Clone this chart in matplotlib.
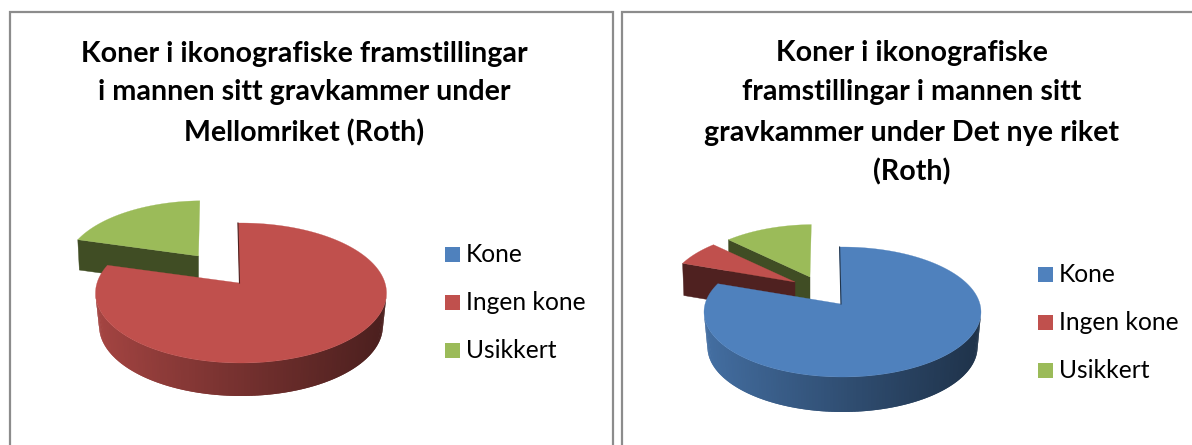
import matplotlib
matplotlib.use('Agg')
import matplotlib.pyplot as plt
import numpy as np
from matplotlib.colors import to_rgb

plt.rcParams['font.family'] = ['Lato', 'DejaVu Sans']

labels = ['Kone', 'Ingen kone', 'Usikkert']
colors = ['#4f81bd', '#c0504d', '#9bbb59']

title_left = ['Koner i ikonografiske framstillingar',
              'i mannen sitt gravkammer under',
              'Mellomriket (Roth)']
title_right = ['Koner i ikonografiske',
               'framstillingar i mannen sitt',
               'gravkammer under Det nye riket',
               '(Roth)']

values_left = [0, 9, 2]
values_right = [66, 5, 9]

fig = plt.figure(figsize=(11.92, 4.45), dpi=100)
ax = fig.add_axes([0, 0, 1, 1])
ax.set_xlim(0, 1192)
ax.set_ylim(445, 0)
ax.axis('off')


def shade(color, f):
    return tuple(c * f for c in to_rgb(color))


def rim(t, cx, cy, rx, ry):
    return cx + rx * np.cos(t), cy - ry * np.sin(t)


def draw_pie(values, cx, cy, rx, ry, lift, depth, offsets, scale=0.92, skew=-0.05, first=91.2):
    fracs = np.array(values, dtype=float) / sum(values)
    ends = first - 360 * np.cumsum(fracs)
    starts = ends + 360 * fracs
    apex_y = cy - lift
    apex_x = cx - 1.5
    # back slices first so the big one lies on top
    for i in range(len(values) - 1, -1, -1):
        if values[i] == 0:
            continue
        t = np.radians(np.linspace(starts[i], ends[i], 240))
        dx, dy = offsets.get(i, (0, 0))
        s = scale if i in offsets else 1.0
        k = skew if i in offsets else 0.0

        def place(x, y):
            yy = s * (y - apex_y)
            return apex_x + dx + s * (x - apex_x) + k * yy, apex_y + dy + yy

        x, y = rim(t, cx, cy, rx, ry)
        xb, yb = rim(t, cx, cy + depth, rx * 0.975, ry)
        xt, yt = place(x, y)
        xl, yl = place(xb, yb)
        ax0, ay0 = place(apex_x, apex_y)

        if i in offsets:
            # cut face at the left end of the slice
            ax.fill([ax0, xt[0], xl[0], ax0], [ay0, yt[0], yl[0], ay0 + depth * s],
                    color=shade(colors[i], 0.41), lw=0.3)
        else:
            ax.plot([ax0, xt[0]], [ay0, yt[0]], color=shade(colors[i], 0.4), lw=0.8)

        # outer wall, shaded from left to right, each strip runs under the next one
        left, right = cx - rx, cx + rx
        idx = np.where(np.sin(t) < 0)[0]
        idx = idx[np.argsort(xt[idx])]
        for a, b in zip(idx[:-1], idx[2:]):
            f = 0.86 - 0.47 * (max(xt[a] - left, 0) / (right - left)) ** 0.9
            ax.fill([xt[a], xt[b], xl[b], xl[a]], [yt[a], yt[b], yl[b], yl[a]],
                    color=shade(colors[i], f), lw=0)

        ax.fill(np.r_[ax0, xt], np.r_[ay0, yt], color=colors[i], lw=0.2)


def draw_title(lines, xc, ys):
    for line, y in zip(lines, ys):
        ax.text(xc, y, line, ha='center', va='center', fontsize=20.6, fontweight='bold', color='black')


def draw_legend(x, ys):
    for name, c, y in zip(labels, colors, ys):
        ax.fill([x, x + 15, x + 15, x], [y - 7.5, y - 7.5, y + 7.5, y + 7.5], color=c, lw=0)
        ax.text(x + 21, y, name, ha='left', va='center', fontsize=17.7, color='black')


# frames, open at the bottom
frame = dict(color='#8c8c8c', lw=1.6, solid_capstyle='butt', solid_joinstyle='miter')
ax.plot([10, 10, 613, 613], [445, 12, 12, 445], **frame)
ax.plot([622, 622, 1192], [445, 12, 12], **frame)

draw_pie(values_left, 241, 293, 145.5, 70, 10, 33, {2: (-41, -27)})
draw_pie(values_right, 842.5, 312, 138.5, 65, 8, 35, {1: (-46, -22), 2: (-31, -27)})

draw_title(title_left, 304, [54, 92, 133])
draw_title(title_right, 912, [53, 92, 133, 172])
draw_legend(445, [254, 302, 350])
draw_legend(1038, [274, 322, 370])

fig.savefig('out.png', dpi=100)
